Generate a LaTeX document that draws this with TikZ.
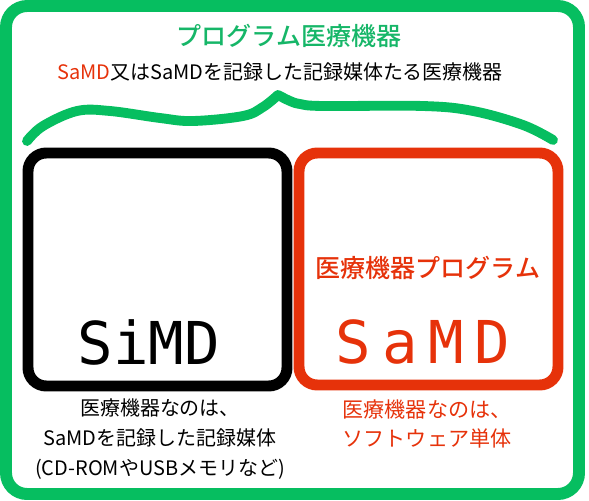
\documentclass[tikz,border=0pt]{standalone}
\usepackage{fontspec}
\newfontfamily\jpfont{Noto Sans CJK JP}
\newfontfamily\jpmedfont{Noto Sans CJK JP Medium}
\newfontfamily\pixfont{DejaVu Sans Mono}
\newfontfamily\pixwidefont[LetterSpace=18]{DejaVu Sans Mono}
\definecolor{frameGreen}{RGB}{6,190,96}
\definecolor{titleGreen}{RGB}{22,182,104}
\definecolor{samdRed}{RGB}{230,50,10}

\begin{document}
\begin{tikzpicture}[x=0.025cm,y=-0.025cm,
    jp/.style={inner sep=0pt, align=center, font=\jpfont\fontsize{14.2}{21.3}\selectfont},
    jpbig/.style={inner sep=0pt, font=\jpmedfont\fontsize{17.8}{20}\selectfont},
    pix/.style={inner sep=0pt, font=\pixfont\fontsize{42}{42}\selectfont}]

\useasboundingbox (0,0) rectangle (589,500);

% outer frame and the two boxes
\draw[frameGreen, line width=8.5pt, rounded corners=15pt] (6,6) rectangle (579,494);
\draw[black, line width=7.8pt, rounded corners=13pt] (28,153) rectangle (287,386);
\draw[samdRed, line width=7.8pt, rounded corners=13pt] (299,153) rectangle (558,385);

% brace
\draw[frameGreen, line width=7pt, line cap=round, line join=round]
    plot[smooth, tension=0.6] coordinates {(27,141) (43,126) (77,111) (110,111) (160,118) (193,121) (243,116) (263,107) (278,95)}
    -- plot[smooth, tension=0.6] coordinates {(278,95) (290,101) (300,104) (323,106) (423,106) (473,111) (523,125) (553,140)};

\node[jpbig, text=titleGreen] (title) at (289,36) {プログラム医療機器};
\node[jp] (subtitle) at (280,72) {\textcolor{samdRed}{SaMD}又はSaMDを記録した記録媒体たる医療機器};

\node[pix] (simd) at (149,342) {SiMD};
\node[pix, text=samdRed, font=\pixwidefont\fontsize{42}{42}\selectfont] (samd) at (423,342) {SaMD};
\node[jpbig, text=samdRed] (samdname) at (428,268) {医療機器プログラム};

\node[jp] (simdnote) at (160,439) {医療機器なのは、\\SaMDを記録した記録媒体\\(CD-ROMやUSBメモリなど)};
\node[jp, text=samdRed, font=\jpfont\fontsize{15}{21.3}\selectfont] (samdnote) at (427,424) {医療機器なのは、\\ソフトウェア単体};

\end{tikzpicture}
\end{document}
